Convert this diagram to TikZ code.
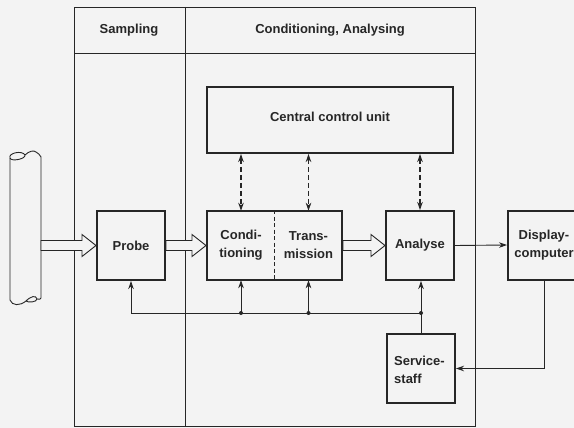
\documentclass[tikz,border=0pt]{standalone}
\usepackage{fontspec}
\setmainfont{Liberation Sans}
\usetikzlibrary{arrows.meta,calc}
\definecolor{ink}{HTML}{262626}
\definecolor{paper}{HTML}{F3F3F3}
\newcommand{\hollowarr}[3]{%
  \path[draw=ink, line width=0.9pt, fill=paper] let \p1=(#1), \p2=(#2) in
    (\x1,\y2+5pt) -- (\x2-14pt,\y2+5pt) -- (\x2-14pt,\y2+11pt) -- (\x2,\y2)
    -- (\x2-14pt,\y2-11pt) -- (\x2-14pt,\y2-5pt) -- (\x1,\y2-5pt) -- cycle;
  \coordinate (#3) at ($(#1)!.5!(#2)$);}
\begin{document}
\begin{tikzpicture}[x=1pt,y=-1pt,
  every node/.style={font=\fontsize{13}{18}\selectfont\bfseries, text=ink, inner sep=0pt},
  frame/.style={draw=ink, line width=0.9pt},
  blockbox/.style={draw=ink, line width=2pt, minimum width=68pt, minimum height=69pt, align=center},
  plain/.style={minimum width=68pt, minimum height=69pt, align=center},
  conn/.style={draw=ink, line width=0.9pt, -{Stealth[length=8pt,width=5.5pt]}},
  dconn/.style={draw=ink, line width=1.1pt, dash pattern=on 5pt off 3pt, {Stealth[length=8pt,width=5.5pt]}-{Stealth[length=8pt,width=5.5pt]}},
  dot/.style={circle, fill=ink, minimum size=4pt, inner sep=0pt}]
\useasboundingbox (0,0) rectangle (574,428);
\fill[paper] (0,0) rectangle (574,428);
\begin{scope}
\clip (0,0) rectangle (574,428);
% frame
\draw[frame] (74,7) rectangle (475,426.5);
\draw[frame] (74,53) -- (475,53);
\draw[frame] (185,7) -- (185,426.5);
\node (hs) at (129,30) {Sampling};
\node (hc) at (330,30) {Conditioning, Analysing};
% blocks
\node[blockbox, minimum width=246pt, minimum height=66pt] (ccu) at (330,120) {};
\node (ccut) at (330,117) {Central control unit};
\node[blockbox] (probe) at (131,245.5) {Probe};
\node[blockbox, minimum width=135pt] (ct) at (274.5,245.5) {};
\node[plain, minimum width=67pt] (cond) at (241,245.5) {Condi-\\tioning};
\node[plain, minimum width=67pt] (trans) at (308.5,245.5) {Trans-\\mission};
\draw[ink, line width=1.4pt, dash pattern=on 4pt off 2.5pt] (ct.north) -- (ct.south);
\node[blockbox] (analyse) at (420,245.5) {Analyse};
\node[blockbox, minimum width=72pt] (display) at (544,245) {Display-\\computer};
\node[blockbox] (service) at (421,368.5) {};
\node[anchor=west, align=left] (servt) at (394,370) {Service-\\staff};
% pipe
\draw[ink, line width=0.9pt, fill=paper]
  (10,158) -- (10,300)
  .. controls (12,306) and (20,306) .. (26,301)
  .. controls (31,296) and (36,295) .. (37,299)
  .. controls (37,302) and (28,303) .. (26,301)
  (37,299) .. controls (39,300) and (41,299) .. (41,298)
  -- (41,157);
\draw[ink, line width=0.9pt]
  (10,158) .. controls (8,153) and (22,150) .. (25,155)
  .. controls (26,159) and (11,162) .. (10,158)
  (25,155) .. controls (29,151) and (34,150) .. (36,152)
  .. controls (38,154) and (40,154) .. (41,157);
\coordinate (pipeR) at (41,246);
% hollow arrows
\hollowarr{pipeR}{probe.west}{ha1}
\hollowarr{probe.east}{ct.west}{ha2}
\hollowarr{ct.east}{analyse.west}{ha3}
% dashed links to central control unit
\draw[dconn] (ccu.south -| cond.north) -- (cond.north);
\draw[dconn] (ccu.south -| trans.north) -- (trans.north);
\draw[dconn] (ccu.south -| analyse.north) -- (analyse.north);
% analyse to display
\draw[conn] (analyse.east) -- (display.west);
% bus
\coordinate (busy) at (0,313);
\coordinate (b0) at (probe.south |- busy);
\coordinate (b1) at (cond.south |- busy);
\coordinate (b2) at (trans.south |- busy);
\coordinate (b3) at (service.north |- busy);
\draw[ink, line width=0.9pt] (b0) -- (b3) -- (service.north);
\draw[conn] (b0) -- (probe.south);
\draw[conn] (b1) -- (cond.south);
\draw[conn] (b2) -- (trans.south);
\draw[conn] (b3) -- (analyse.south -| b3);
\node[dot] (d1) at (b1) {};
\node[dot] (d2) at (b2) {};
\node[dot] (d3) at (b3) {};
% display to service
\draw[conn] (display.south) |- (service.east);
\end{scope}
\end{tikzpicture}
\end{document}
